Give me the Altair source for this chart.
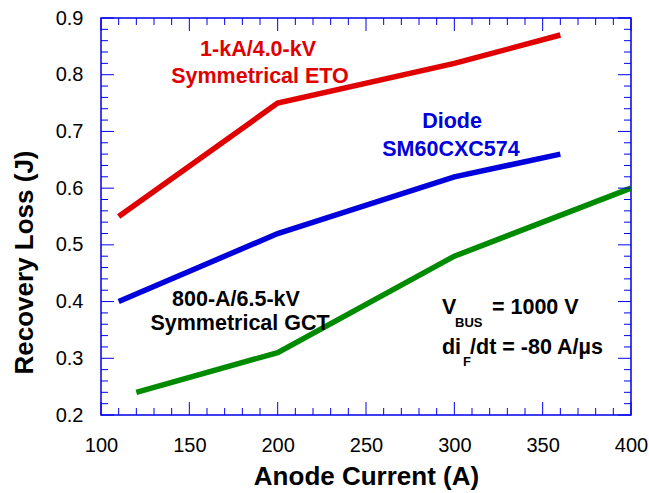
import altair as alt
import pandas as pd

# ---- data ----
eto_x = [110, 200, 300, 360]
eto_y = [0.55, 0.75, 0.82, 0.87]
diode_x = [110, 200, 300, 360]
diode_y = [0.40, 0.52, 0.62, 0.66]
gct_x = [120, 200, 300, 400]
gct_y = [0.24, 0.31, 0.48, 0.60]

x_major = [100, 150, 200, 250, 300, 350, 400]
x_minor = [110, 120, 130, 140, 160, 170, 180, 190, 210, 220, 230, 240, 260, 270, 280, 290,
           310, 320, 330, 340, 360, 370, 380, 390]
y_major = [0.2, 0.3, 0.4, 0.5, 0.6, 0.7, 0.8, 0.9]
y_minor = [0.22, 0.24, 0.26, 0.28, 0.32, 0.34, 0.36, 0.38, 0.42, 0.44, 0.46, 0.48,
           0.52, 0.54, 0.56, 0.58, 0.62, 0.64, 0.66, 0.68, 0.72, 0.74, 0.76, 0.78,
           0.82, 0.84, 0.86, 0.88]

series = ["ETO", "Diode", "GCT"]
colors = ["#e00000", "#0000dd", "#008a00"]

label_text = ["1-kA/4.0-kV", "Symmetrical ETO", "Diode", "SM60CXC574", "800-A/6.5-kV", "Symmetrical GCT"]
label_x = [188.9, 190.0, 298.7, 298.1, 176.4, 178.7]
label_y = [0.8436, 0.796, 0.7166, 0.6673, 0.4028, 0.3605]
label_color = ["#e00000", "#e00000", "#0000dd", "#0000dd", "#000000", "#000000"]

cond_text = ["V", "BUS", "= 1000 V", "di", "F", "/dt = -80 A/\u00b5s"]
cond_x = [293.0, 300.4, 321.3, 293.0, 304.9, 308.9]
cond_y = [0.3887, 0.3622, 0.3887, 0.3181, 0.2934, 0.3181]
cond_size = [21.5, 13, 21.5, 21.5, 13, 21.5]

W, H = 530, 397
FONT = "Liberation Sans"
AXIS_BLUE = "#0000ee"

lines = pd.DataFrame({
    "x": eto_x + diode_x + gct_x,
    "y": eto_y + diode_y + gct_y,
    "s": ["ETO"] * 4 + ["Diode"] * 4 + ["GCT"] * 4,
})

xscale = alt.Scale(domain=[100, 400], nice=False, zero=False)
yscale = alt.Scale(domain=[0.2, 0.9], nice=False, zero=False)

xaxis = alt.Axis(values=x_major, format="d", ticks=False, domain=False, grid=False,
                 labelFontSize=20, labelFont=FONT, labelColor="#000000", labelPadding=20,
                 title="Anode Current (A)", titleFontSize=26, titleFont=FONT, titleFontWeight="bold",
                 titleColor="#000000", titlePadding=8, labelFlush=False)
yaxis = alt.Axis(values=y_major, format=".1f", ticks=False, domain=False, grid=False,
                 labelFontSize=20, labelFont=FONT, labelColor="#000000", labelPadding=18,
                 title="Recovery Loss (J)", titleFontSize=26, titleFont=FONT, titleFontWeight="bold",
                 titleColor="#000000", titleX=-77, titleY=244, titleAngle=270,
                 titleBaseline="middle", titleAlign="center", labelFlush=False)


def X(field):
    return alt.X(field, scale=xscale, axis=xaxis)


def Y(field):
    return alt.Y(field, scale=yscale, axis=yaxis)


line_layer = alt.Chart(lines).mark_line(strokeWidth=5.5).encode(
    x=X("x:Q"),
    y=Y("y:Q"),
    color=alt.Color("s:N", scale=alt.Scale(domain=series, range=colors), legend=None),
    detail="s:N",
)

labels = pd.DataFrame({"x": label_x, "y": label_y, "t": label_text, "c": label_color})
label_layer = alt.Chart(labels).mark_text(font=FONT, fontSize=21.5, fontWeight="bold",
                                          align="center", baseline="middle").encode(
    x=X("x:Q"),
    y=Y("y:Q"),
    text="t:N",
    color=alt.Color("c:N", scale=None),
)

cond = pd.DataFrame({"x": cond_x, "y": cond_y, "t": cond_text, "sz": cond_size})
cond_layer = alt.Chart(cond).mark_text(font=FONT, fontWeight="bold", color="#000000",
                                       align="left", baseline="middle").encode(
    x=X("x:Q"),
    y=Y("y:Q"),
    text="t:N",
    size=alt.Size("sz:Q", scale=None, legend=None),
)


def xticks(vals, length):
    df = pd.DataFrame({"v": vals})
    bottom = alt.Chart(df).mark_rule(color=AXIS_BLUE, strokeWidth=1).encode(
        x=X("v:Q"), y=alt.value(H), y2=alt.value(H - length))
    top = alt.Chart(df).mark_rule(color=AXIS_BLUE, strokeWidth=1).encode(
        x=X("v:Q"), y=alt.value(0), y2=alt.value(length))
    return [bottom, top]


def yticks(vals, length):
    df = pd.DataFrame({"v": vals})
    left = alt.Chart(df).mark_rule(color=AXIS_BLUE, strokeWidth=1).encode(
        y=Y("v:Q"), x=alt.value(0), x2=alt.value(length))
    right = alt.Chart(df).mark_rule(color=AXIS_BLUE, strokeWidth=1).encode(
        y=Y("v:Q"), x=alt.value(W), x2=alt.value(W - length))
    return [left, right]


tick_layers = xticks(x_major, 13) + xticks(x_minor, 7) + yticks(y_major, 13) + yticks(y_minor, 7)

chart = alt.layer(line_layer, *tick_layers, label_layer, cond_layer).properties(
    width=W, height=H,
    autosize=alt.AutoSizeParams(type="none"),
    padding={"left": 101, "top": 18, "right": 18, "bottom": 78},
    background="white",
).configure_view(stroke=AXIS_BLUE, strokeWidth=1.5)

chart.save("out.html", embed_options={"renderer": "svg", "actions": False})
